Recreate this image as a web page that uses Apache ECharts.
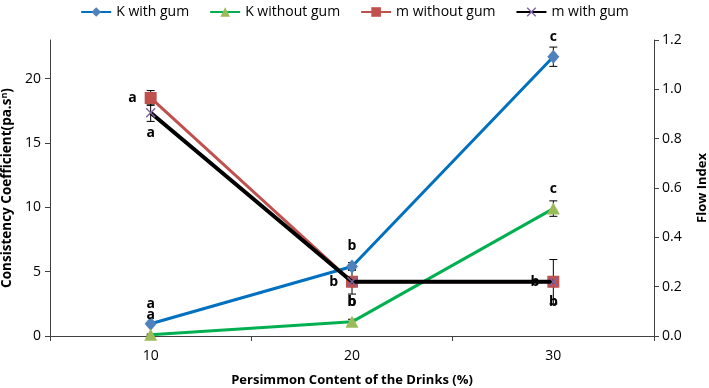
<!DOCTYPE html>
<html>
<head>
<meta charset="utf-8">
<script src="https://cdn.jsdelivr.net/npm/echarts@6/dist/echarts.min.js"></script>
<style>
  html, body { margin: 0; padding: 0; background: #fff; }
  #chart { width: 709px; height: 388px; }
</style>
</head>
<body>
<div id="chart"></div>
<script>
// Valeurs
const categories = ['10', '20', '30'];

const kWithGum = [0.95, 5.4, 21.7];
const kWithGumErr = [0.1, 0.3, 0.75];
const kWithGumLetters = ['a', 'b', 'c'];

const kWithoutGum = [0.1, 1.1, 9.9];
const kWithoutGumErr = [0.05, 0.2, 0.6];
const kWithoutGumLetters = ['a', 'b', 'c'];

const mWithoutGum = [0.965, 0.22, 0.22];
const mWithoutGumErr = [0.03, 0.05, 0.02];
const mWithoutGumLetters = ['a', 'b', 'b'];

const mWithGum = [0.905, 0.22, 0.22];
const mWithGumErr = [0.035, 0.02, 0.09];
const mWithGumLetters = ['a', 'b', 'b'];

const leftTicks = [0, 5, 10, 15, 20];

const FONT = 'Open Sans';
const crossPath = 'path://M0,1L1,0L5,4L9,0L10,1L6,5L10,9L9,10L5,6L1,10L0,9L4,5Z';

function letterLabel(letters, position, distance) {
    return {
        show: true,
        position: position,
        distance: distance,
        color: '#000',
        fontFamily: FONT,
        fontWeight: 'bold',
        fontSize: 14,
        formatter: p => letters[p.dataIndex]
    };
}

// Barres d'erreur dessinées avec les échelles de l'axe
function errorSeries(values, errors, yAxisIndex) {
    return {
        type: 'custom',
        yAxisIndex: yAxisIndex,
        z: 1,
        silent: true,
        data: values.map((v, i) => [i, v, errors[i]]),
        renderItem: function (params, api) {
            const i = api.value(0);
            const v = api.value(1);
            const e = api.value(2);
            const top = api.coord([i, v + e]);
            const bot = api.coord([i, v - e]);
            const w = 4;
            const style = { stroke: '#000', lineWidth: 1 };
            return {
                type: 'group',
                children: [
                    { type: 'line', shape: { x1: top[0], y1: top[1], x2: bot[0], y2: bot[1] }, style: style },
                    { type: 'line', shape: { x1: top[0] - w, y1: top[1], x2: top[0] + w, y2: top[1] }, style: style },
                    { type: 'line', shape: { x1: bot[0] - w, y1: bot[1], x2: bot[0] + w, y2: bot[1] }, style: style }
                ]
            };
        }
    };
}

const chart = echarts.init(document.getElementById('chart'));

chart.setOption({
    animation: false,
    textStyle: { fontFamily: FONT },
    legend: {
        top: 0,
        left: 'center',
        itemWidth: 30,
        itemHeight: 12,
        itemGap: 20,
        textStyle: { fontFamily: FONT, fontSize: 14, color: '#000' },
        data: ['K with gum', 'K without gum', 'm without gum', 'm with gum']
    },
    grid: { left: 50, right: 55, top: 40, bottom: 52, outerBoundsMode: 'none', containLabel: false },
    xAxis: {
        type: 'category',
        data: categories,
        boundaryGap: true,
        name: 'Persimmon Content of the Drinks (%)',
        nameLocation: 'middle',
        nameGap: 38,
        nameTextStyle: { fontFamily: FONT, fontWeight: 'bold', fontSize: 13, color: '#000' },
        axisLine: { lineStyle: { color: '#404040', width: 1 } },
        axisTick: { show: true, length: 5, lineStyle: { color: '#404040' } },
        axisLabel: { color: '#000', fontSize: 14, margin: 13 }
    },
    yAxis: [
        {
            type: 'value',
            min: 0,
            max: 23,
            interval: 5,
            name: '{a|Consistency Coefficient(pa.s}{sup|n}{a|)}',
            nameLocation: 'middle',
            nameGap: 34,
            nameTextStyle: {
                rich: {
                    a: { fontFamily: FONT, fontWeight: 'bold', fontSize: 13.5, color: '#000' },
                    sup: { fontFamily: FONT, fontWeight: 'bold', fontSize: 9, color: '#000', verticalAlign: 'top', padding: [0, 0, 6, 0] }
                }
            },
            splitLine: { show: false },
            axisLine: { show: true, lineStyle: { color: '#404040', width: 1 } },
            axisTick: { show: true, length: 5, customValues: leftTicks, lineStyle: { color: '#404040' } },
            axisLabel: { color: '#000', fontSize: 14, margin: 9, customValues: leftTicks }
        },
        {
            type: 'value',
            min: 0,
            max: 1.2,
            interval: 0.2,
            name: 'Flow Index',
            nameLocation: 'middle',
            nameGap: 42,
            nameRotate: 90,
            nameTextStyle: { fontFamily: FONT, fontWeight: 'bold', fontSize: 13, color: '#000' },
            splitLine: { show: false },
            axisLine: { show: true, lineStyle: { color: '#404040', width: 1 } },
            axisTick: { show: true, length: 5, lineStyle: { color: '#404040' } },
            axisLabel: { color: '#000', fontSize: 14, margin: 8, formatter: v => v.toFixed(1) }
        }
    ],
    series: [
        errorSeries(kWithGum, kWithGumErr, 0),
        errorSeries(kWithoutGum, kWithoutGumErr, 0),
        errorSeries(mWithoutGum, mWithoutGumErr, 1),
        errorSeries(mWithGum, mWithGumErr, 1),
        {
            name: 'K with gum',
            type: 'line',
            yAxisIndex: 0,
            data: kWithGum,
            symbol: 'diamond',
            symbolSize: [12, 14],
            lineStyle: { color: '#0070C0', width: 3 },
            itemStyle: { color: '#4F81BD' },
            label: letterLabel(kWithGumLetters, 'top', 6),
            z: 3
        },
        {
            name: 'K without gum',
            type: 'line',
            yAxisIndex: 0,
            data: kWithoutGum,
            symbol: 'triangle',
            symbolSize: [13, 12],
            lineStyle: { color: '#00B050', width: 3 },
            itemStyle: { color: '#9BBB59' },
            label: letterLabel(kWithoutGumLetters, 'top', 7),
            z: 3
        },
        {
            name: 'm without gum',
            type: 'line',
            yAxisIndex: 1,
            data: mWithoutGum,
            symbol: 'rect',
            symbolSize: 12,
            lineStyle: { color: '#C0504D', width: 3 },
            itemStyle: { color: '#C0504D' },
            label: letterLabel(mWithoutGumLetters, 'left', 8),
            z: 3
        },
        {
            name: 'm with gum',
            type: 'line',
            yAxisIndex: 1,
            data: mWithGum,
            symbol: crossPath,
            symbolSize: 10,
            lineStyle: { color: '#000', width: 4 },
            itemStyle: { color: '#8064A2' },
            label: letterLabel(mWithGumLetters, 'bottom', 8),
            z: 4
        }
    ]
});
</script>
</body>
</html>
